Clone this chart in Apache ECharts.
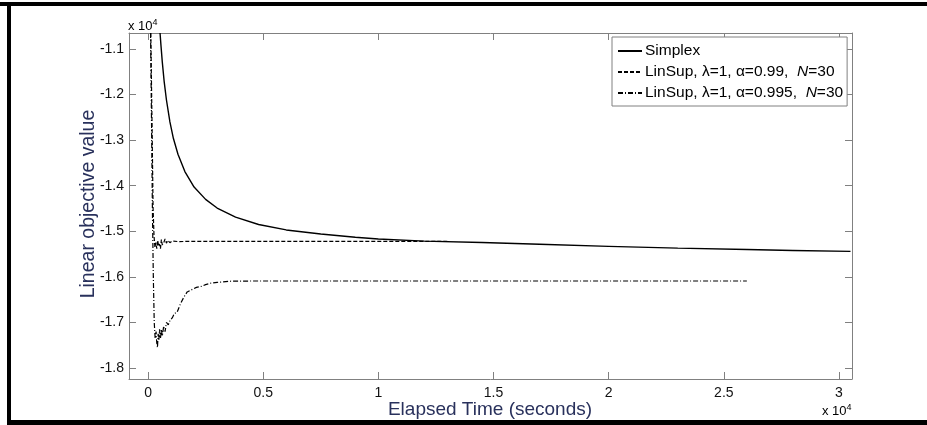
<!DOCTYPE html>
<html>
<head>
<meta charset="utf-8">
<title>Linear objective value</title>
<script src="https://cdn.jsdelivr.net/npm/echarts@6/dist/echarts.min.js"></script>
<style>
  html, body { margin: 0; padding: 0; background: #fff; }
  #chart { width: 927px; height: 425px; }
</style>
</head>
<body>
<div id="chart"></div>
<script>
// time in seconds, objective value (plotted as x 10^4 on the axes)
var simplexT = [522, 560, 620, 700, 800, 950, 1100, 1300, 1600, 2000, 2500, 3000, 3800, 4800, 6000, 7500, 9000, 10000, 12000, 14500, 17000, 20000, 23000, 26000, 28000, 30500];
var simplexV = [-10650, -10910, -11290, -11710, -12120, -12600, -12960, -13310, -13690, -14030, -14300, -14490, -14690, -14850, -14970, -15060, -15130, -15170, -15215, -15245, -15285, -15330, -15370, -15400, -15420, -15440];

var sup99T = [120, 170, 220, 260, 300, 340, 380, 420, 460, 500, 540, 580, 620, 680, 740, 800, 860, 950, 1050, 1300, 2000, 5000, 10000, 13000];
var sup99V = [-10650, -12500, -14500, -15100, -15350, -15250, -15380, -15200, -15330, -15280, -15380, -15180, -15300, -15250, -15170, -15260, -15200, -15250, -15215, -15225, -15220, -15222, -15222, -15222];

var sup995T = [110, 150, 190, 230, 270, 310, 350, 380, 410, 440, 470, 500, 540, 580, 620, 680, 740, 800, 880, 960, 1050, 1150, 1260, 1400, 1550, 1700, 1900, 2100, 2300, 2500, 2700, 3000, 3600, 4500, 6000, 10000, 15000, 20000, 26000];
var sup995V = [-10650, -12500, -14500, -16000, -17000, -17350, -17200, -17450, -17550, -17250, -17400, -17150, -17350, -17150, -17300, -17080, -17200, -17000, -17050, -16950, -16900, -16800, -16780, -16600, -16450, -16330, -16280, -16230, -16210, -16170, -16140, -16120, -16095, -16090, -16090, -16090, -16090, -16090, -16090];

var seriesNames = ['Simplex', 'LinSup, λ=1, α=0.99,  N=30', 'LinSup, λ=1, α=0.995,  N=30'];

var xMin = -826, xMax = 30565;
var yMin = -18240, yMax = -10650;

function pairs(ts, vs) {
	var out = [];
	for (var i = 0; i < ts.length; i++) {
		out.push([ts[i], vs[i]]);
	}
	return out;
}

var axisGray = '#808080';
var fontName = 'Liberation Sans, Arial, sans-serif';

function makeAxis(pos, isX, showLabel) {
	return {
		type: 'value',
		position: pos,
		min: isX ? xMin : yMin,
		max: isX ? xMax : yMax,
		splitNumber: isX ? 6 : 8,
		splitLine: { show: false },
		axisLine: { show: true, onZero: false, lineStyle: { color: axisGray, width: 1 } },
		axisTick: { show: true, inside: true, length: 7, lineStyle: { color: axisGray } },
		axisLabel: {
			show: showLabel,
			showMinLabel: false,
			showMaxLabel: false,
			margin: isX ? 7 : 5,
			color: '#111',
			fontSize: 14,
			fontFamily: fontName,
			formatter: function(v) {
				var s = v / 10000;
				return isX ? String(Math.round(s * 10) / 10) : s.toFixed(1);
			}
		}
	};
}

var chart = echarts.init(document.getElementById('chart'), null, { renderer: 'canvas' });

var option = {
	animation: false,
	backgroundColor: '#fff',
	grid: { left: 129, top: 33, width: 723, height: 346, containLabel: false },
	xAxis: [makeAxis('bottom', true, true), makeAxis('top', true, false)],
	yAxis: [makeAxis('left', false, true), makeAxis('right', false, false)],
	legend: {
		orient: 'vertical',
		left: 612,
		top: 37,
		padding: [6, 4, 5, 5],
		itemGap: 5,
		itemWidth: 24,
		itemHeight: 14,
		backgroundColor: '#fff',
		borderColor: axisGray,
		borderWidth: 1,
		borderRadius: 0,
		// hide the marker, keep only the line sample
		itemStyle: { color: 'rgba(0,0,0,0)', borderWidth: 0, opacity: 0 },
		data: seriesNames,
		formatter: function(name) {
			return name.replace('N=', '{i|N}=');
		},
		textStyle: {
			color: '#000',
			fontSize: 15.5,
			fontFamily: fontName,
			padding: [0, 0, 0, -2],
			rich: {
				i: { fontStyle: 'italic', fontSize: 15.5, color: '#000', fontFamily: fontName }
			}
		}
	},
	graphic: [
		// outer frame of the figure
		{ type: 'rect', shape: { x: 0, y: 2, width: 927, height: 4 }, style: { fill: '#000' } },
		{ type: 'rect', shape: { x: 7, y: 2, width: 4, height: 423 }, style: { fill: '#000' } },
		{ type: 'rect', shape: { x: 7, y: 420, width: 920, height: 5 }, style: { fill: '#000' } },
		{
			type: 'text', left: 128, top: 18,
			style: {
				text: 'x 10{s|4}', fill: '#000', fontSize: 13, fontFamily: fontName,
				rich: { s: { fontSize: 9, verticalAlign: 'top', padding: [0, 0, 7, 0] } }
			}
		},
		{
			type: 'text', left: 822, top: 403,
			style: {
				text: 'x 10{s|4}', fill: '#000', fontSize: 13, fontFamily: fontName,
				rich: { s: { fontSize: 9, verticalAlign: 'top', padding: [0, 0, 7, 0] } }
			}
		},
		{
			type: 'text', x: 490, y: 410,
			style: {
				text: 'Elapsed Time (seconds)', fill: '#29315c', fontSize: 19,
				fontFamily: fontName, align: 'center', verticalAlign: 'middle'
			}
		},
		{
			type: 'text', x: 89, y: 204, rotation: Math.PI / 2,
			style: {
				text: 'Linear objective value', fill: '#29315c', fontSize: 19.5,
				fontFamily: fontName, align: 'center', verticalAlign: 'middle'
			}
		}
	],
	series: [
		{
			name: seriesNames[0], type: 'line', symbol: 'none', showSymbol: false,
			data: pairs(simplexT, simplexV),
			lineStyle: { color: '#000', width: 1.4, type: 'solid' },
			itemStyle: { color: '#000' }
		},
		{
			name: seriesNames[1], type: 'line', symbol: 'none', showSymbol: false,
			data: pairs(sup99T, sup99V),
			lineStyle: { color: '#000', width: 1.2, type: [4, 2] },
			itemStyle: { color: '#000' }
		},
		{
			name: seriesNames[2], type: 'line', symbol: 'none', showSymbol: false,
			data: pairs(sup995T, sup995V),
			lineStyle: { color: '#000', width: 1.2, type: [5, 2, 1, 2] },
			itemStyle: { color: '#000' }
		}
	]
};

chart.setOption(option);
</script>
</body>
</html>
